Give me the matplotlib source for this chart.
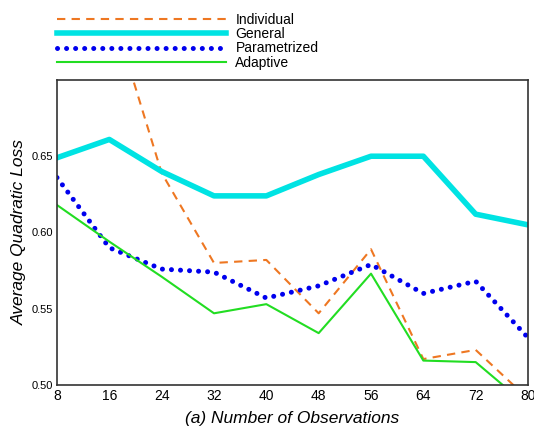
import matplotlib
matplotlib.use("Agg")
import matplotlib.pyplot as plt

plt.rcParams['font.family'] = ['Liberation Sans', 'DejaVu Sans']

obs = [8, 16, 24, 32, 40, 48, 56, 64, 72, 80]
individual = [0.85, 0.751, 0.639, 0.580, 0.582, 0.547, 0.589, 0.517, 0.523, 0.491]
general = [0.649, 0.661, 0.640, 0.624, 0.624, 0.638, 0.650, 0.650, 0.612, 0.605]
parametrized = [0.636, 0.590, 0.576, 0.574, 0.557, 0.565, 0.579, 0.560, 0.568, 0.531]
adaptive = [0.618, 0.594, 0.571, 0.547, 0.553, 0.534, 0.573, 0.516, 0.515, 0.486]

fig = plt.figure(figsize=(5.34, 4.30), dpi=100)
ax = fig.add_axes([0.1067, 0.1047, 0.8821, 0.7093])

ax.plot(obs, individual, color='#ee7722', lw=1.5, ls=(0, (4, 3)), label='Individual')
ax.plot(obs, general, color='#00e3e3', lw=4, label='General')
ax.plot(obs, parametrized, color='#0000ee', lw=3.6, ls=(0, (0.01, 1.8)),
        dash_capstyle='round', label='Parametrized')
ax.plot(obs, adaptive, color='#22dd22', lw=1.5, label='Adaptive')

ax.set_xlim(8, 80)
ax.set_ylim(0.50, 0.70)
ax.set_xticks(obs)
ax.set_yticks([0.50, 0.55, 0.60, 0.65])
ax.set_yticklabels(['0.50', '0.55', '0.60', '0.65'])
ax.tick_params(axis='x', length=0, labelsize=10, pad=3)
ax.tick_params(axis='y', length=0, labelsize=8, pad=3)
for s in ax.spines.values():
    s.set_color('#333333')
    s.set_linewidth(1.2)

ax.set_xlabel('(a) Number of Observations', fontsize=12.5, style='italic', labelpad=6)
ax.set_ylabel('Average Quadratic Loss', fontsize=12.5, style='italic', labelpad=3)

fig.legend(loc='upper left', bbox_to_anchor=(0.1067, 0.97), frameon=False,
           fontsize=10, handlelength=12.2, handletextpad=0.65, labelspacing=0.02,
           borderpad=0, borderaxespad=0)

fig.savefig('out.png', dpi=100)
